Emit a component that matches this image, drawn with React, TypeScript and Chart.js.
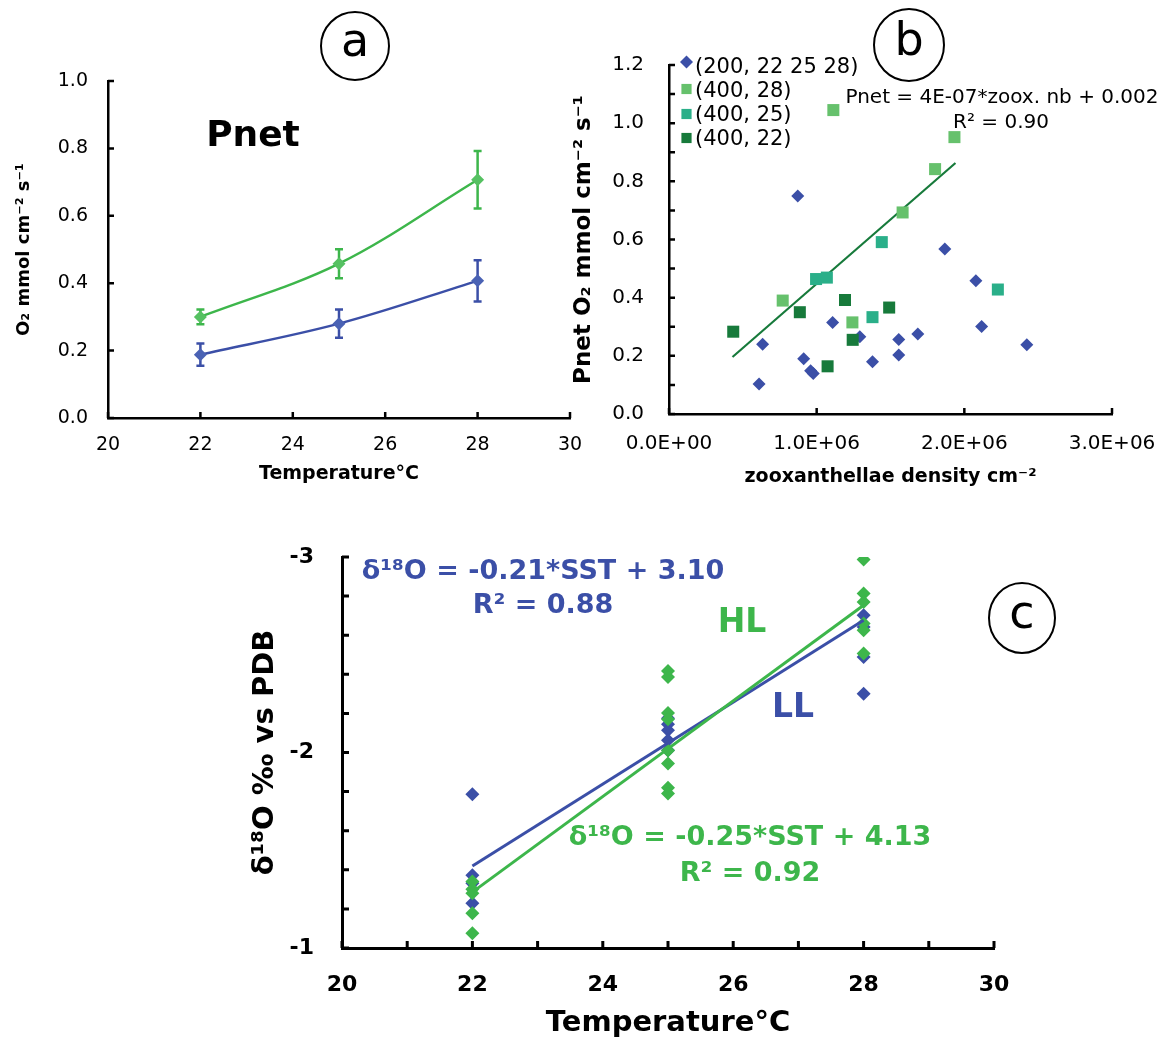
import React, { useEffect, useRef } from 'react';
import { Chart, registerables } from 'chart.js';

Chart.register(...registerables);
Chart.defaults.font.family = "'DejaVu Sans', sans-serif";
Chart.defaults.color = '#000';

// ---------- Panel a : Pnet vs temperature ----------
const tempA = [22, 25, 28];
const pnetHL = [0.3, 0.458, 0.707];
const pnetHLErr = [0.022, 0.043, 0.085];
const pnetLL = [0.188, 0.28, 0.407];
const pnetLLErr = [0.033, 0.042, 0.061];
const xTicksA = [20, 22, 24, 26, 28, 30];
const yTicksA = [0, 0.2, 0.4, 0.6, 0.8, 1.0];

// ---------- Panel b : Pnet vs zooxanthellae density ----------
const zoox200 = [0.872e6, 1.868e6, 2.078e6, 2.117e6, 2.423e6, 1.108e6, 1.292e6, 1.556e6, 1.685e6, 1.556e6, 1.378e6, 0.912e6, 0.959e6, 0.977e6, 0.634e6, 0.61e6];
const pnet200 = [0.75, 0.567, 0.458, 0.301, 0.238, 0.315, 0.266, 0.256, 0.275, 0.203, 0.18, 0.19, 0.149, 0.139, 0.24, 0.103];
const zoox400_28 = [1.113e6, 1.933e6, 1.802e6, 1.582e6, 0.77e6, 1.242e6];
const pnet400_28 = [1.045, 0.952, 0.842, 0.693, 0.39, 0.315];
const zoox400_25 = [1.441e6, 0.996e6, 1.069e6, 2.227e6, 1.378e6];
const pnet400_25 = [0.591, 0.464, 0.469, 0.428, 0.333];
const zoox400_22 = [0.435e6, 0.886e6, 1.192e6, 1.491e6, 1.244e6, 1.074e6];
const pnet400_22 = [0.283, 0.35, 0.392, 0.366, 0.255, 0.164];
const trendZoox = [0.43e6, 1.94e6];
const trendPnet = [0.196, 0.863];
const legendB = ['(200, 22 25 28)', '(400, 28)', '(400, 25)', '(400, 22)'];
const xTicksB = [0, 1e6, 2e6, 3e6];
const yTicksB = [0, 0.1, 0.2, 0.3, 0.4, 0.5, 0.6, 0.7, 0.8, 0.9, 1.0, 1.1, 1.2];
const yLabelsB = [0, 0.2, 0.4, 0.6, 0.8, 1.0, 1.2];

// ---------- Panel c : d18O vs SST ----------
const sstLL = [22, 22, 22, 22, 25, 25, 25, 25, 25, 28, 28, 28, 28];
const d18LL = [-1.786, -1.372, -1.331, -1.229, -2.175, -2.145, -2.114, -2.063, -2.012, -2.702, -2.642, -2.488, -2.301];
const sstHL = [22, 22, 22, 22, 22, 25, 25, 25, 25, 25, 25, 25, 25, 28, 28, 28, 28, 28, 28];
const d18HL = [-1.34, -1.3, -1.28, -1.178, -1.076, -2.417, -2.386, -2.202, -2.17, -2.01, -1.944, -1.82, -1.79, -2.987, -2.813, -2.77, -2.66, -2.625, -2.507];
const fitSST = [22, 28];
const fitLL = [-1.419, -2.676];
const fitHL = [-1.286, -2.753];
const xTicksC = [20, 21, 22, 23, 24, 25, 26, 27, 28, 29, 30];
const xLabelsC = [20, 22, 24, 26, 28, 30];
const yTicksC = [-3, -2.8, -2.6, -2.4, -2.2, -2, -1.8, -1.6, -1.4, -1.2, -1];
const yLabelsC = [-3, -2, -1];

const BLUE = '#3b4fa7';
const GREEN = '#3db64b';
const LIGHT_GREEN = '#66c16c';
const TEAL = '#2aaf89';
const DARK_GREEN = '#177a3b';

const pts = (xs: number[], ys: number[]) => xs.map((x, i) => ({ x, y: ys[i] }));
const inList = (list: number[], v: number) => list.some((l) => Math.abs(l - v) < 1e-9);
const setTicks = (arr: number[]) => (scale: any) => {
  scale.ticks = arr.map((value) => ({ value }));
};
const sci = (v: number) => {
  if (v === 0) return '0.0E+00';
  const e = Math.floor(Math.log10(Math.abs(v)));
  const m = v / Math.pow(10, e);
  return m.toFixed(1) + 'E' + (e >= 0 ? '+' : '-') + String(Math.abs(e)).padStart(2, '0');
};

function inwardTicks(len: number, width: number) {
  return {
    id: 'inwardTicks',
    afterDraw(chart: any) {
      const { ctx } = chart;
      const x = chart.scales.x;
      const y = chart.scales.y;
      ctx.save();
      ctx.strokeStyle = '#000';
      ctx.lineWidth = width;
      ctx.beginPath();
      x.ticks.forEach((t: any) => {
        const px = x.getPixelForValue(t.value);
        ctx.moveTo(px, x.top);
        ctx.lineTo(px, x.top - len);
      });
      y.ticks.forEach((t: any) => {
        const py = y.getPixelForValue(t.value);
        ctx.moveTo(y.right, py);
        ctx.lineTo(y.right + len, py);
      });
      ctx.stroke();
      ctx.restore();
    },
  };
}

const errorBars = {
  id: 'errorBars',
  beforeDatasetsDraw(chart: any) {
    const { ctx } = chart;
    const y = chart.scales.y;
    chart.data.datasets.forEach((ds: any, i: number) => {
      if (!ds.errors) return;
      const meta = chart.getDatasetMeta(i);
      ctx.save();
      ctx.strokeStyle = ds.borderColor;
      ctx.lineWidth = 2.5;
      meta.data.forEach((el: any, j: number) => {
        const v = ds.data[j].y;
        const e = ds.errors[j];
        const t = y.getPixelForValue(v + e);
        const b = y.getPixelForValue(v - e);
        ctx.beginPath();
        ctx.moveTo(el.x, t);
        ctx.lineTo(el.x, b);
        ctx.moveTo(el.x - 4, t);
        ctx.lineTo(el.x + 4, t);
        ctx.moveTo(el.x - 4, b);
        ctx.lineTo(el.x + 4, b);
        ctx.stroke();
      });
      ctx.restore();
    });
  },
};

type Txt = { text: string; x: number; y: number; font: string; color?: string; align?: CanvasTextAlign };
type Ell = { cx: number; cy: number; rx: number; ry: number; letter: string };

function decor(texts: Txt[], ellipses: Ell[]) {
  return {
    id: 'decor',
    afterDraw(chart: any) {
      const { ctx } = chart;
      ctx.save();
      ellipses.forEach((e) => {
        ctx.beginPath();
        ctx.ellipse(e.cx, e.cy, e.rx, e.ry, 0, 0, Math.PI * 2);
        ctx.lineWidth = 2;
        ctx.strokeStyle = '#000';
        ctx.stroke();
        ctx.font = "46px 'DejaVu Sans'";
        ctx.fillStyle = '#000';
        ctx.textAlign = 'center';
        ctx.textBaseline = 'middle';
        ctx.fillText(e.letter, e.cx, e.cy - 2);
      });
      texts.forEach((t) => {
        ctx.font = t.font;
        ctx.fillStyle = t.color || '#000';
        ctx.textAlign = t.align || 'center';
        ctx.textBaseline = 'middle';
        ctx.fillText(t.text, t.x, t.y);
      });
      ctx.restore();
    },
  };
}

function drawMarker(ctx: any, style: string, x: number, y: number, r: number, color: string) {
  ctx.beginPath();
  if (style === 'rectRot') {
    ctx.moveTo(x - r, y);
    ctx.lineTo(x, y - r);
    ctx.lineTo(x + r, y);
    ctx.lineTo(x, y + r);
  } else {
    const s = r * Math.SQRT1_2;
    ctx.rect(x - s, y - s, 2 * s, 2 * s);
  }
  ctx.closePath();
  ctx.fillStyle = color;
  ctx.fill();
}

function legendPanelB(markerX: number, markerY: number[], textX: number, textY: number[]) {
  return {
    id: 'legendPanelB',
    afterDraw(chart: any) {
      const { ctx } = chart;
      ctx.save();
      legendB.forEach((label, i) => {
        const ds = chart.data.datasets.find((d: any) => d.label === label);
        if (!ds) return;
        drawMarker(ctx, ds.pointStyle, markerX, markerY[i], ds.pointStyle === 'rectRot' ? 6.5 : 7.2, ds.backgroundColor);
        ctx.font = "21px 'DejaVu Sans'";
        ctx.fillStyle = '#000';
        ctx.textAlign = 'left';
        ctx.textBaseline = 'middle';
        ctx.fillText(label, textX, textY[i]);
      });
      ctx.restore();
    },
  };
}

const base = {
  responsive: false,
  animation: false as const,
  devicePixelRatio: 1,
  events: [] as any[],
};

export default function App() {
  const refA = useRef<HTMLCanvasElement>(null);
  const refB = useRef<HTMLCanvasElement>(null);
  const refC = useRef<HTMLCanvasElement>(null);

  useEffect(() => {
    const charts: Chart[] = [];

    // ---------------- Panel a ----------------
    charts.push(
      new Chart(refA.current!, {
        type: 'scatter',
        data: {
          datasets: [
            {
              label: 'HL',
              data: pts(tempA, pnetHL),
              errors: pnetHLErr,
              showLine: true,
              tension: 0.35,
              borderColor: GREEN,
              backgroundColor: '#56c162',
              borderWidth: 2.5,
              pointStyle: 'rectRot',
              pointRadius: 6.5,
              pointBorderWidth: 0,
            } as any,
            {
              label: 'LL',
              data: pts(tempA, pnetLL),
              errors: pnetLLErr,
              showLine: true,
              tension: 0.35,
              borderColor: BLUE,
              backgroundColor: '#4a62b4',
              borderWidth: 2.5,
              pointStyle: 'rectRot',
              pointRadius: 6.5,
              pointBorderWidth: 0,
            } as any,
          ],
        },
        options: {
          ...base,
          layout: { padding: { left: 0, top: 81, right: 30, bottom: 0 } },
          plugins: { legend: { display: false }, tooltip: { enabled: false } },
          scales: {
            x: {
              type: 'linear',
              min: 20,
              max: 30,
              afterBuildTicks: setTicks(xTicksA),
              afterFit: (s: any) => { s.height = 82; },
              grid: { display: false, drawTicks: false },
              border: { display: true, color: '#000', width: 2.5 },
              ticks: { padding: 16, color: '#000', font: { size: 19 }, callback: (v: any) => String(v) },
              title: { display: true, text: 'Temperature°C', color: '#000', font: { size: 19, weight: 'bold' }, padding: { top: 0, bottom: 15 } },
            },
            y: {
              type: 'linear',
              min: 0,
              max: 1,
              afterBuildTicks: setTicks(yTicksA),
              afterFit: (s: any) => { s.width = 108; },
              grid: { display: false, drawTicks: false },
              border: { display: true, color: '#000', width: 2.5 },
              ticks: { padding: 20, color: '#000', font: { size: 19 }, callback: (v: any) => Number(v).toFixed(1) },
              title: { display: true, text: 'O₂ mmol cm⁻² s⁻¹', color: '#000', font: { size: 18, weight: 'bold' }, padding: { top: 14, bottom: 0 } },
            },
          },
        } as any,
        plugins: [
          errorBars,
          inwardTicks(6, 2.5),
          decor([{ text: 'Pnet', x: 253, y: 137, font: "bold 36px 'DejaVu Sans'" }], [{ cx: 355, cy: 46, rx: 34, ry: 34, letter: 'a' }]),
        ],
      })
    );

    // ---------------- Panel b ----------------
    charts.push(
      new Chart(refB.current!, {
        type: 'scatter',
        data: {
          datasets: [
            { label: '(400, 22)', data: pts(zoox400_22, pnet400_22), pointStyle: 'rect', pointRadius: 8.5, backgroundColor: DARK_GREEN, borderColor: DARK_GREEN, pointBorderWidth: 0 },
            { label: '(400, 25)', data: pts(zoox400_25, pnet400_25), pointStyle: 'rect', pointRadius: 8.5, backgroundColor: TEAL, borderColor: TEAL, pointBorderWidth: 0 },
            { label: '(400, 28)', data: pts(zoox400_28, pnet400_28), pointStyle: 'rect', pointRadius: 8.5, backgroundColor: LIGHT_GREEN, borderColor: LIGHT_GREEN, pointBorderWidth: 0 },
            { label: '(200, 22 25 28)', data: pts(zoox200, pnet200), pointStyle: 'rectRot', pointRadius: 6.5, backgroundColor: BLUE, borderColor: BLUE, pointBorderWidth: 0 },
            { label: 'trend', data: pts(trendZoox, trendPnet), showLine: true, pointRadius: 0, borderColor: DARK_GREEN, borderWidth: 2.2 },
          ] as any,
        },
        options: {
          ...base,
          layout: { padding: { left: 0, top: 65, right: 68, bottom: 0 } },
          plugins: { legend: { display: false }, tooltip: { enabled: false } },
          scales: {
            x: {
              type: 'linear',
              min: 0,
              max: 3e6,
              afterBuildTicks: setTicks(xTicksB),
              afterFit: (s: any) => { s.height = 86; },
              grid: { display: false, drawTicks: false },
              border: { display: true, color: '#000', width: 2.5 },
              ticks: { padding: 18, color: '#000', font: { size: 20 }, callback: (v: any) => sci(Number(v)) },
              title: { display: true, text: 'zooxanthellae density cm⁻²', color: '#000', font: { size: 19, weight: 'bold' }, padding: { top: 0, bottom: 12 } },
            },
            y: {
              type: 'linear',
              min: 0,
              max: 1.2,
              afterBuildTicks: setTicks(yTicksB),
              afterFit: (s: any) => { s.width = 109; },
              grid: { display: false, drawTicks: false },
              border: { display: true, color: '#000', width: 2.5 },
              ticks: { padding: 25, color: '#000', font: { size: 20 }, callback: (v: any) => (inList(yLabelsB, Number(v)) ? Number(v).toFixed(1) : '') },
              title: { display: true, text: 'Pnet O₂ mmol cm⁻² s⁻¹', color: '#000', font: { size: 23, weight: 'bold' }, padding: { top: 10, bottom: 0 } },
            },
          },
        } as any,
        plugins: [
          inwardTicks(6, 2.5),
          legendPanelB(126.5, [62, 89, 114, 138], 135, [68, 92, 116, 140]),
          decor(
            [
              { text: 'Pnet = 4E-07*zoox. nb + 0.002', x: 442, y: 98, font: "20px 'DejaVu Sans'" },
              { text: 'R² = 0.90', x: 441, y: 123, font: "20px 'DejaVu Sans'" },
            ],
            [{ cx: 349, cy: 45, rx: 35, ry: 36, letter: 'b' }]
          ),
        ],
      })
    );

    // ---------------- Panel c ----------------
    charts.push(
      new Chart(refC.current!, {
        type: 'scatter',
        data: {
          datasets: [
            { label: 'HL fit', data: pts(fitSST, fitHL), showLine: true, pointRadius: 0, borderColor: GREEN, borderWidth: 3 },
            { label: 'LL fit', data: pts(fitSST, fitLL), showLine: true, pointRadius: 0, borderColor: BLUE, borderWidth: 3 },
            { label: 'HL', data: pts(sstHL, d18HL), pointStyle: 'rectRot', pointRadius: 7, backgroundColor: GREEN, borderColor: GREEN, pointBorderWidth: 0 },
            { label: 'LL', data: pts(sstLL, d18LL), pointStyle: 'rectRot', pointRadius: 7, backgroundColor: BLUE, borderColor: BLUE, pointBorderWidth: 0 },
          ] as any,
        },
        options: {
          ...base,
          layout: { padding: { left: 0, top: 57, right: 172, bottom: 0 } },
          plugins: { legend: { display: false }, tooltip: { enabled: false } },
          scales: {
            x: {
              type: 'linear',
              min: 20,
              max: 30,
              afterBuildTicks: setTicks(xTicksC),
              afterFit: (s: any) => { s.height = 98; },
              grid: { display: false, drawTicks: false },
              border: { display: true, color: '#000', width: 3 },
              ticks: { padding: 24, color: '#000', font: { size: 22, weight: 'bold' }, callback: (v: any) => (inList(xLabelsC, Number(v)) ? String(v) : '') },
              title: { display: true, text: 'Temperature°C', color: '#000', font: { size: 29, weight: 'bold' }, padding: { top: 0, bottom: 5 } },
            },
            y: {
              type: 'linear',
              min: -3,
              max: -1,
              reverse: true,
              afterBuildTicks: setTicks(yTicksC),
              afterFit: (s: any) => { s.width = 342; },
              grid: { display: false, drawTicks: false },
              border: { display: true, color: '#000', width: 3 },
              ticks: { padding: 28, color: '#000', font: { size: 22, weight: 'bold' }, callback: (v: any) => (inList(yLabelsC, Number(v)) ? String(Math.round(Number(v))) : '') },
              title: { display: true, text: 'δ¹⁸O ‰ vs PDB', color: '#000', font: { size: 29, weight: 'bold' }, padding: { top: 248, bottom: 0 } },
            },
          },
        } as any,
        plugins: [
          inwardTicks(7, 3),
          decor(
            [
              { text: 'δ¹⁸O = -0.21*SST + 3.10', x: 543, y: 72, font: "bold 27px 'DejaVu Sans'", color: BLUE },
              { text: 'R² = 0.88', x: 543, y: 106, font: "bold 27px 'DejaVu Sans'", color: BLUE },
              { text: 'HL', x: 742, y: 123, font: "bold 33px 'DejaVu Sans'", color: GREEN },
              { text: 'LL', x: 793, y: 208, font: "bold 33px 'DejaVu Sans'", color: BLUE },
              { text: 'δ¹⁸O = -0.25*SST + 4.13', x: 750, y: 338, font: "bold 27px 'DejaVu Sans'", color: GREEN },
              { text: 'R² = 0.92', x: 750, y: 374, font: "bold 27px 'DejaVu Sans'", color: GREEN },
            ],
            [{ cx: 1022, cy: 118, rx: 33, ry: 35, letter: 'c' }]
          ),
        ],
      })
    );

    return () => charts.forEach((c) => c.destroy());
  }, []);

  return (
    <div style={{ position: 'absolute', left: 0, top: 0, width: 1166, height: 1046, background: '#fff', overflow: 'hidden' }}>
      <canvas ref={refA} width={600} height={500} style={{ position: 'absolute', left: 0, top: 0, width: 600, height: 500 }} />
      <canvas ref={refB} width={620} height={500} style={{ position: 'absolute', left: 560, top: 0, width: 620, height: 500 }} />
      <canvas ref={refC} width={1166} height={546} style={{ position: 'absolute', left: 0, top: 500, width: 1166, height: 546 }} />
    </div>
  );
}
